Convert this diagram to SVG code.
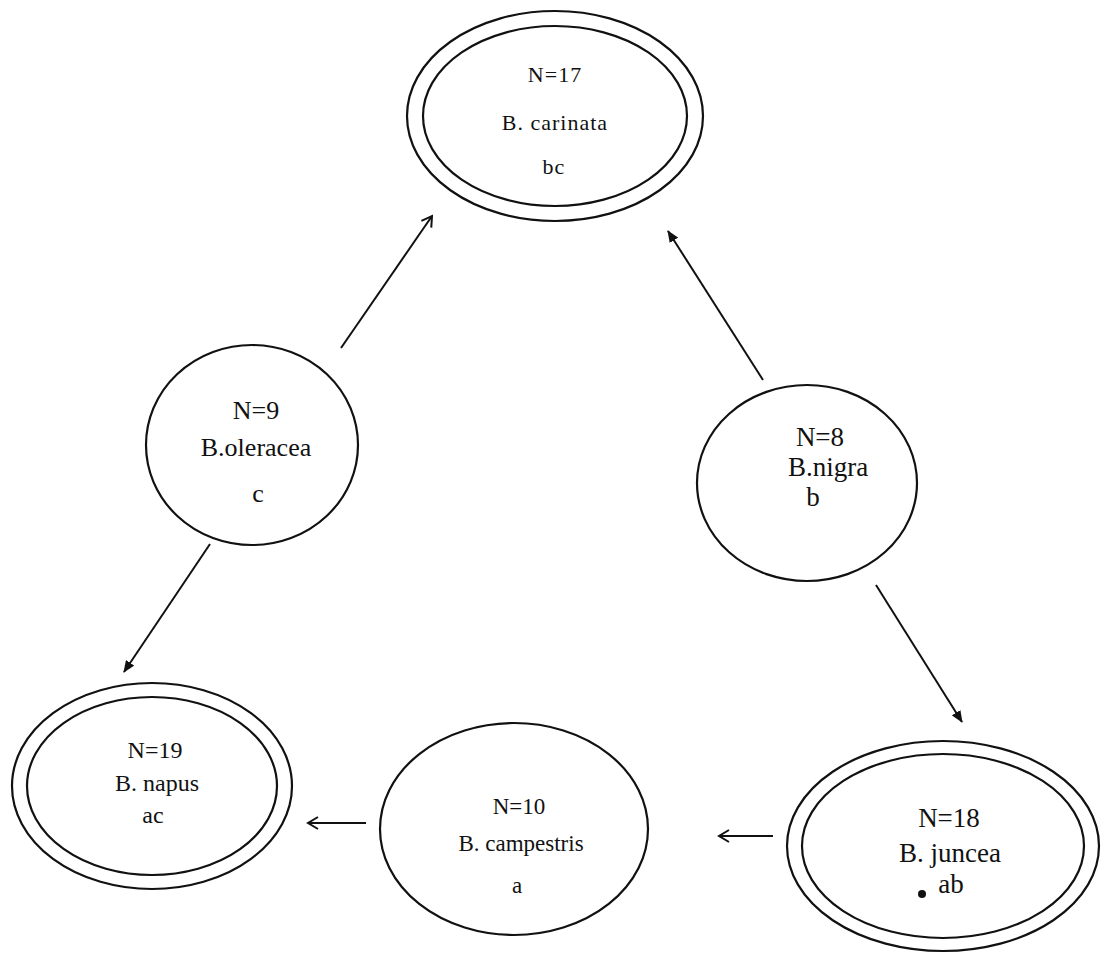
<svg xmlns="http://www.w3.org/2000/svg" width="1104" height="956" viewBox="0 0 1104 956">
<style>
.e{fill:none;stroke:#111;stroke-width:2.2}
.t{font-family:"Liberation Serif","Times New Roman",serif;fill:#111;text-anchor:middle}
.s{font-size:22px;letter-spacing:1px}
.c{stroke:#111;stroke-width:2;fill:none}
</style>
<defs>
<marker id="fa" markerWidth="12" markerHeight="10" refX="11" refY="5" orient="auto" markerUnits="userSpaceOnUse">
<path d="M0,0 L12,5 L0,10 Z" fill="#111"/>
</marker>
<marker id="oa" markerWidth="14" markerHeight="14" refX="12" refY="7" orient="auto" markerUnits="userSpaceOnUse">
<path d="M2,1 L12,7 L2,13" fill="none" stroke="#111" stroke-width="2"/>
</marker>
</defs>
<rect width="1104" height="956" fill="#fff"/>
<g id="connectors">
<line class="c" x1="341" y1="348" x2="432" y2="216" marker-end="url(#oa)"/>
<line class="c" x1="763" y1="380" x2="668" y2="231" marker-end="url(#fa)"/>
<line class="c" x1="210" y1="544" x2="124" y2="672" marker-end="url(#fa)"/>
<line class="c" x1="876" y1="585" x2="962" y2="722" marker-end="url(#fa)"/>
<line class="c" x1="366" y1="823" x2="308" y2="823" marker-end="url(#oa)"/>
<line class="c" x1="773" y1="836" x2="719" y2="836" marker-end="url(#oa)"/>
</g>
<g id="carinata">
<ellipse class="e" cx="555" cy="116" rx="148" ry="105"/>
<ellipse class="e" cx="555" cy="116" rx="132" ry="90"/>
<text class="t s" x="555" y="82">N=17</text>
<text class="t s" x="555" y="130">B. carinata</text>
<text class="t s" x="554" y="174">bc</text>
</g>
<g id="oleracea" font-size="26">
<ellipse class="e" cx="252" cy="445" rx="106" ry="100"/>
<text class="t" x="256" y="419">N=9</text>
<text class="t" x="256" y="456">B.oleracea</text>
<text class="t" x="258" y="502">c</text>
</g>
<g id="nigra" font-size="27">
<ellipse class="e" cx="807" cy="483" rx="110" ry="98"/>
<text class="t" x="820" y="446">N=8</text>
<text class="t" x="828" y="476">B.nigra</text>
<text class="t" x="813" y="506">b</text>
</g>
<g id="napus" font-size="24">
<ellipse class="e" cx="152" cy="786" rx="140" ry="103"/>
<ellipse class="e" cx="152" cy="786" rx="125" ry="89"/>
<text class="t" x="155" y="758">N=19</text>
<text class="t" x="157" y="791">B. napus</text>
<text class="t" x="153" y="823">ac</text>
</g>
<g id="campestris" font-size="23">
<ellipse class="e" cx="514" cy="829" rx="134" ry="106"/>
<text class="t" x="519" y="814">N=10</text>
<text class="t" x="521" y="851">B. campestris</text>
<text class="t" x="517" y="893">a</text>
</g>
<g id="juncea" font-size="27">
<ellipse class="e" cx="943" cy="846" rx="156" ry="105"/>
<ellipse class="e" cx="943" cy="846" rx="141" ry="92"/>
<text class="t" x="949" y="827">N=18</text>
<text class="t" x="950" y="862">B. juncea</text>
<text class="t" x="951" y="893">ab</text>
<circle cx="922" cy="894" r="4" fill="#111"/>
</g>
</svg>
